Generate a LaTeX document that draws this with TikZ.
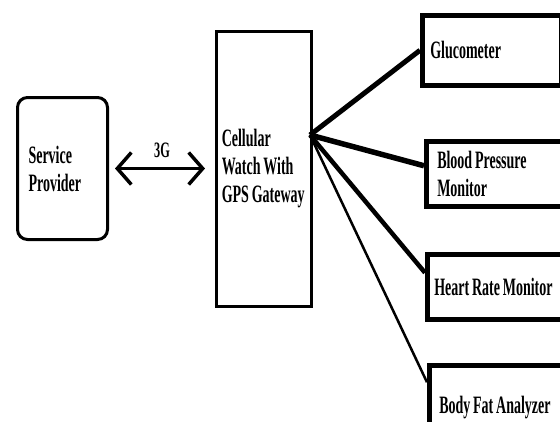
\documentclass[tikz,border=0pt]{standalone}
\usepackage{fontspec}
\setmainfont{Liberation Serif}[FakeStretch=0.56,WordSpace=0.8]
\usetikzlibrary{arrows.meta}
\begin{document}
\begin{tikzpicture}[x=1pt,y=-1pt]
	% Cadre
	\useasboundingbox (0,0) rectangle (560,421);
	\clip (0,0) rectangle (560,421);
	% Styles
	\tikzstyle{texte}=[font=\fontsize{25}{28}\selectfont\bfseries]
	\tikzstyle{boite}=[texte,draw,line width=4.5pt,anchor=north west,align=flush left,inner ysep=0pt]
	\tikzstyle{appareil}=[boite,inner xsep=8pt,text width=123pt]
	\tikzstyle{fleche}=[{Straight Barb[length=14pt,width=32pt]}-{Straight Barb[length=14pt,width=32pt]},line width=3.5pt]
	\tikzstyle{lien}=[line width=5pt]
	\tikzstyle{etiquette}=[midway,above=6pt,font=\fontsize{22}{24}\selectfont\bfseries]
	% Noeuds
	\node[boite,line width=3pt,rounded corners=10pt,inner xsep=11pt,text width=68pt,minimum height=142pt] (sp) at (16,96) {Service\\Provider};
	\node[boite,line width=2.5pt,inner xsep=5.5pt,text width=84pt,minimum height=275pt] (gw) at (215,30) {Cellular\\Watch With\\GPS Gateway};
	\coordinate (hub) at (310,135);
	\node[appareil,minimum height=70pt] (gluco) at (420,13) {Glucometer};
	\node[appareil,inner xsep=11pt,text width=117pt,minimum height=65pt] (bp) at (424,139) {Blood Pressure\\Monitor};
	\node[appareil,inner xsep=7pt,minimum height=65pt] (hr) at (425,252) {Heart Rate Monitor};
	\node[appareil,inner xsep=10pt,text width=119pt,minimum height=84pt] (bfa) at (427,363) {Body Fat Analyzer};
	% Arcs
	\draw[fleche,shorten <=6pt,shorten >=10pt] (sp.east) -- (sp.east -| gw.west) node[etiquette] {3G};
	\draw[lien] (hub) -- (gluco.west);
	\draw[lien,line width=5.5pt] (hub) -- ([yshift=8pt]bp.west);
	\draw[lien,line width=4.5pt] (hub) -- ([yshift=14pt]hr.west);
	\draw[lien,line width=2.5pt] (hub) -- ([yshift=25pt]bfa.west);
\end{tikzpicture}
\end{document}
